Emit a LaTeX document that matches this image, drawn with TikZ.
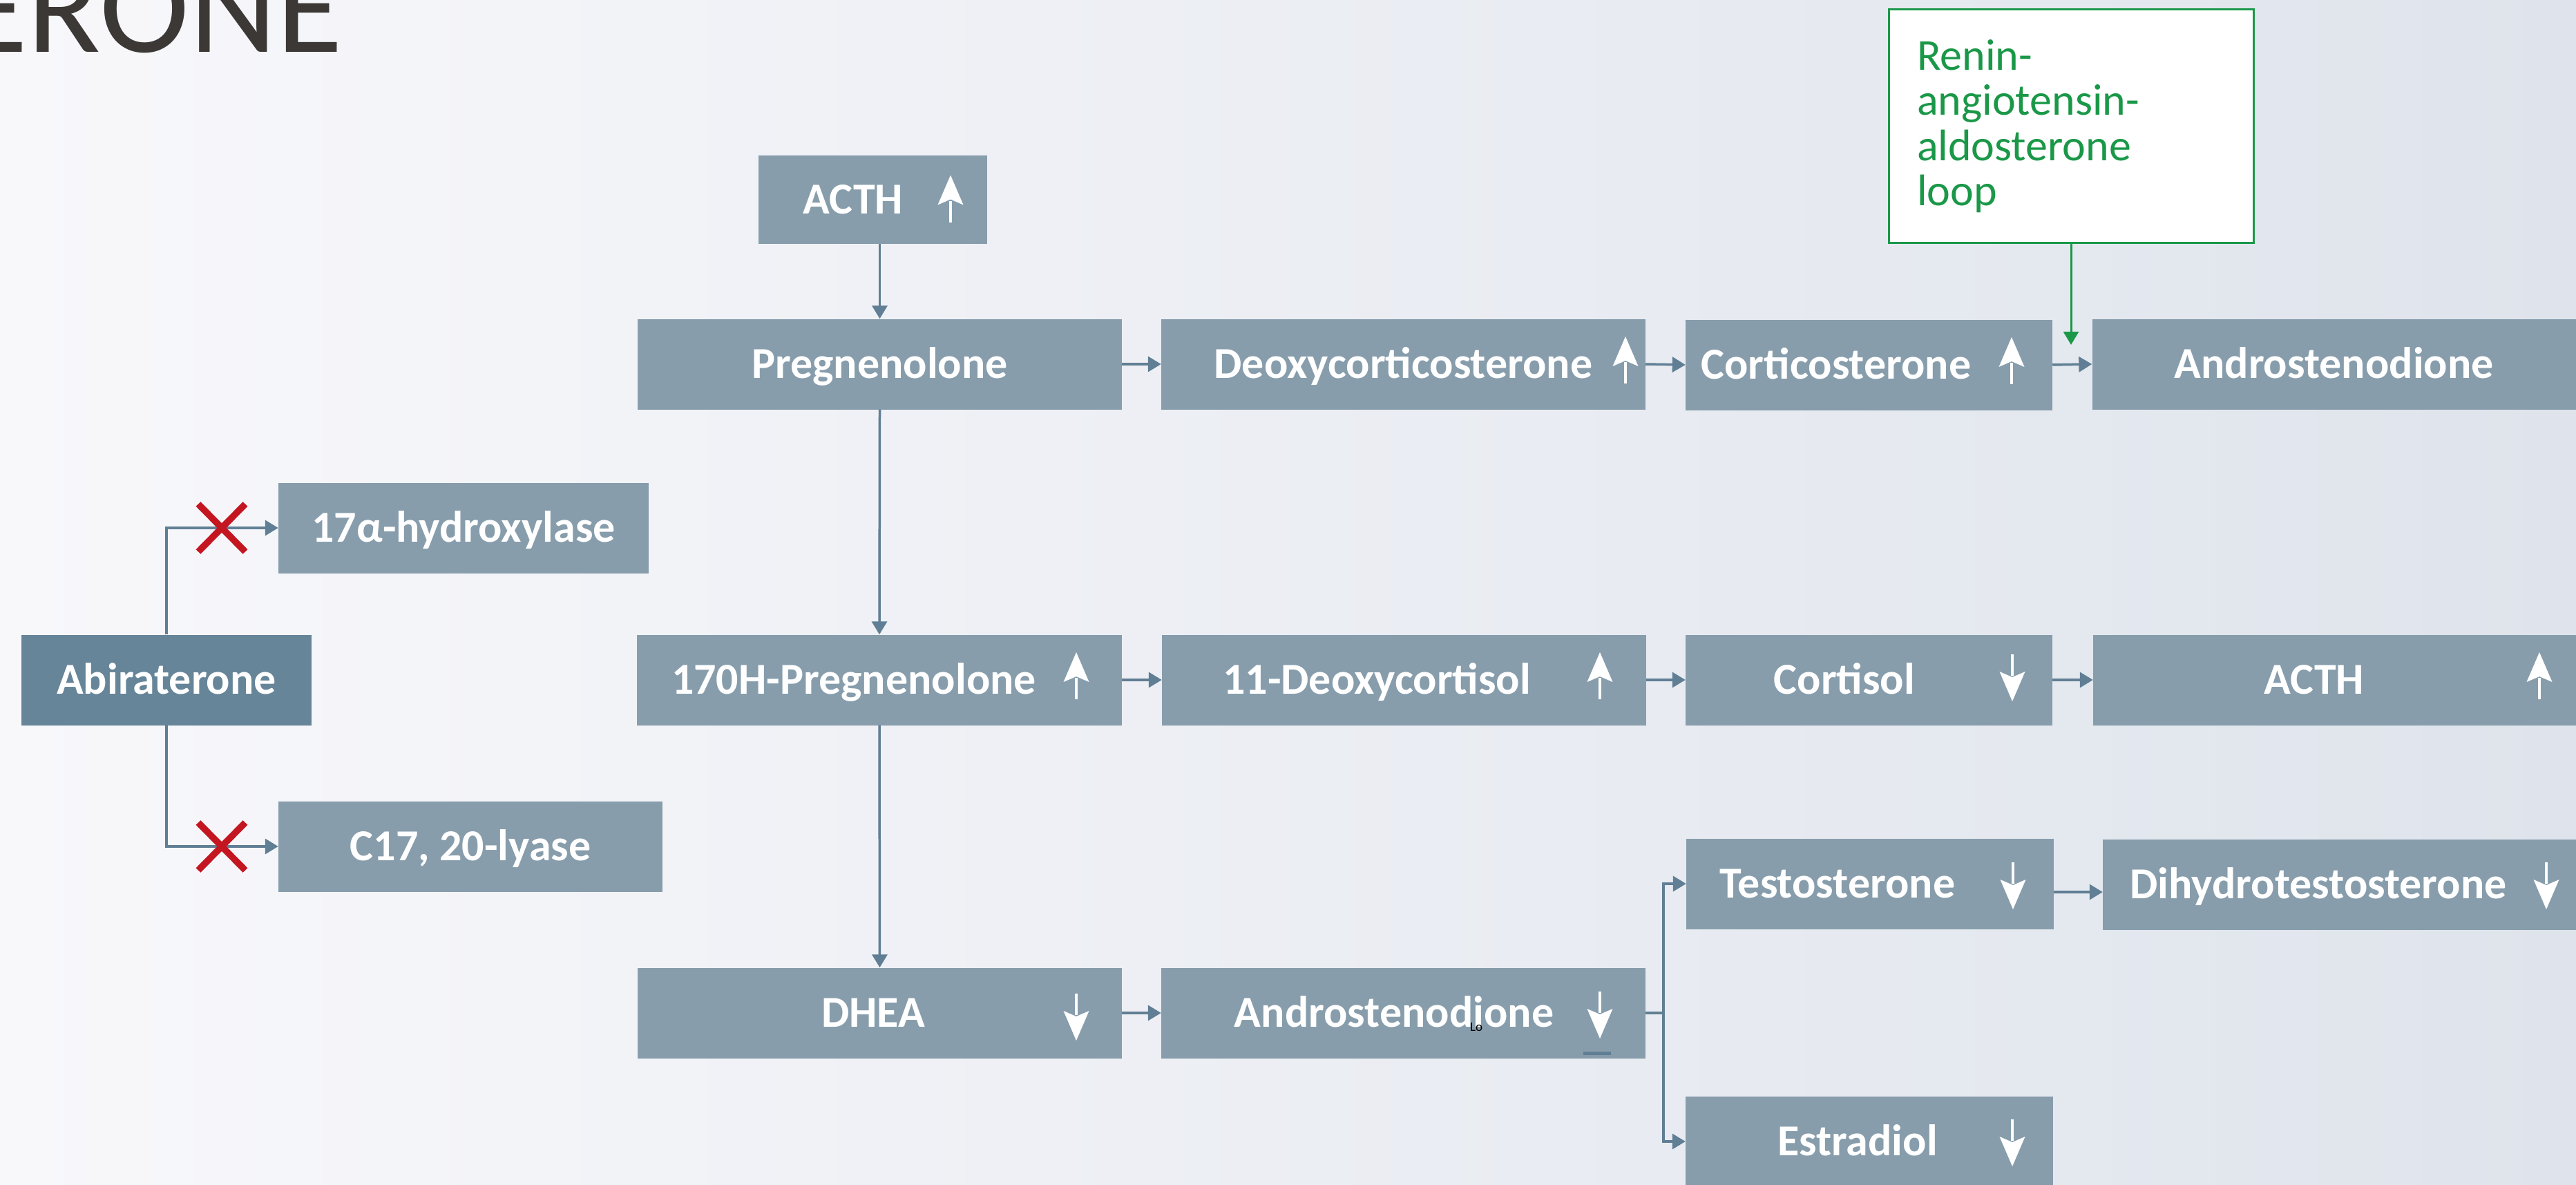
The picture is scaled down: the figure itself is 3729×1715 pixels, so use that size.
\documentclass[tikz,border=0pt]{standalone}
\usepackage{fontspec}
\setmainfont{Carlito}
\usetikzlibrary{arrows.meta}
\definecolor{boxc}{RGB}{135,157,172}
\definecolor{abirc}{RGB}{102,133,153}
\definecolor{connc}{RGB}{96,126,148}
\definecolor{greenc}{RGB}{26,152,72}
\definecolor{redc}{RGB}{196,22,32}
\definecolor{titlec}{RGB}{60,56,53}
\definecolor{bgl}{RGB}{248,248,251}
\definecolor{bgr}{RGB}{223,228,236}
\newcommand{\boxfont}{\fontsize{64}{70}\selectfont\bfseries}
\begin{document}
\begin{tikzpicture}[x=1pt,y=-1pt,
  box/.style={rectangle, fill=boxc, minimum height=131pt, inner sep=0pt, text=white,
    font=\boxfont, text height=41pt, text depth=0pt},
  conn/.style={draw=connc, line width=3.5pt, -{Triangle[length=19pt,width=22pt]}},
  connline/.style={draw=connc, line width=3.5pt},
  gconn/.style={draw=greenc, line width=3pt, -{Triangle[length=19pt,width=22pt]}},
  uparr/.pic={\fill[white] (0,-34) -- (18.5,9) -- (0,1) -- (-18.5,9) -- cycle;
              \draw[white, line width=4.5pt] (0,3) -- (0,34);},
  downarr/.pic={\fill[white] (0,34) -- (18.5,-9) -- (0,-1) -- (-18.5,-9) -- cycle;
              \draw[white, line width=4.5pt] (0,-3) -- (0,-34);},
  redx/.pic={\draw[redc, line width=9.5pt] (-34,-34.5) -- (34,34.5) (-34,34.5) -- (34,-34.5);}
]
\useasboundingbox (0,0) rectangle (3729,1715);
\shade[left color=bgl, right color=bgr] (0,0) rectangle (3729,1715);

% title
\node[anchor=base west, inner sep=0pt, text=titlec, font=\fontsize{196}{200}\selectfont] (title) at (-56,76) {ERONE};

% boxes
\node[box, minimum width=331pt, minimum height=128pt] (acthT) at (1263.5,289) {ACTH\hspace*{57pt}};
\node[box, minimum width=701pt] (preg) at (1273.5,527) {Pregnenolone};
\node[box, minimum width=701pt] (doc) at (2031.5,527) {Deoxycorticosterone};
\node[box, minimum width=531pt] (cortico) at (2705.5,528) {Corticosterone\hspace*{95pt}};
\node[box, minimum width=700pt] (androT) at (3378.5,527) {Androstenodione};

\node[box, minimum width=536pt] (hydrox) at (671,764) {17α-hydroxylase};
\node[box, fill=abirc, minimum width=420pt] (abir) at (241,984) {Abiraterone};
\node[box, minimum width=556pt] (lyase) at (681,1225) {C17, 20-lyase};

\node[box, minimum width=702pt] (ohpreg) at (1273,984) {170H-Pregnenolone\hspace*{74pt}};
\node[box, minimum width=701pt] (dcortisol) at (2032.5,984) {11-Deoxycortisol\hspace*{79pt}};
\node[box, minimum width=531pt] (cortisol) at (2705.5,984) {Cortisol\hspace*{71pt}};
\node[box, minimum width=700pt] (acthR) at (3380,984) {ACTH\hspace*{60pt}};

\node[box, minimum width=701pt] (dhea) at (1273.5,1466) {DHEA\hspace*{19pt}};
\node[box, minimum width=701pt] (androB) at (2031.5,1466) {Androstenodione\hspace*{27pt}};

\node[box, minimum width=532pt] (testo) at (2707,1279) {Testosterone\hspace*{94pt}};
\node[box, minimum width=700pt] (dht) at (3394,1280) {Dihydrotestosterone\hspace*{76pt}};
\node[box, minimum width=532pt] (estr) at (2706,1652) {Estradiol\hspace*{34pt}};

% renin box
\node[draw=greenc, line width=3pt, fill=white, minimum width=528pt, minimum height=337pt,
  text=greenc, font=\fontsize{64}{65.5}\selectfont, align=left, text width=446pt, inner sep=0pt]
  (renin) at (2998,182.5) {Renin-\\angiotensin-\\aldosterone\\loop};

% up/down indicators
\pic at (1376,287.5) {uparr};
\pic at (2353,521) {uparr};
\pic at (2912,522) {uparr};
\pic at (1558,978) {uparr};
\pic at (2316,978) {uparr};
\pic at (2913,981) {downarr};
\pic at (3676,978) {uparr};
\pic at (1558,1472) {downarr};
\pic at (2316,1469) {downarr};
\pic at (2914,1282) {downarr};
\pic at (3686,1282) {downarr};
\pic at (2913,1654) {downarr};

% small artefacts in Androstenodione box
\fill[connc] (2292,1522) rectangle (2332,1527);
\node[font=\fontsize{19}{19}\selectfont, anchor=base west, inner sep=0pt] (lo) at (2128,1492) {Lo};

% connectors
\draw[conn] (preg.north |- acthT.south) -- (preg.north);
\draw[conn] (preg.south) -- (ohpreg.north);
\draw[conn] (ohpreg.south) -- (dhea.north);
\draw[conn] (preg.east) -- (doc.west);
\draw[conn] (doc.east) -- (cortico.west);
\draw[conn] (cortico.east) -- (androT.west);
\draw[conn] (ohpreg.east) -- (dcortisol.west);
\draw[conn] (dcortisol.east) -- (cortisol.west);
\draw[conn] (cortisol.east) -- (acthR.west);
\draw[conn] (dhea.east) -- (androB.west);
\draw[connline] (androB.east) -- ++(26,0) coordinate (jn);
\draw[conn] (jn) |- (testo.west);
\draw[conn] (jn) |- (estr.west);
\draw[conn] ([yshift=-12pt]testo.east) -- ([yshift=-12pt]testo.east -| dht.west);
\draw[conn] (abir.north) |- (hydrox.west);
\draw[conn] (abir.south) |- (lyase.west);
\pic at ([xshift=80pt]abir.north |- hydrox.west) {redx};
\pic at ([xshift=80pt]abir.south |- lyase.west) {redx};

\coordinate (gtip) at (renin.south |- 0,499);
\draw[gconn] (renin.south) -- (gtip);
\end{tikzpicture}
\end{document}
